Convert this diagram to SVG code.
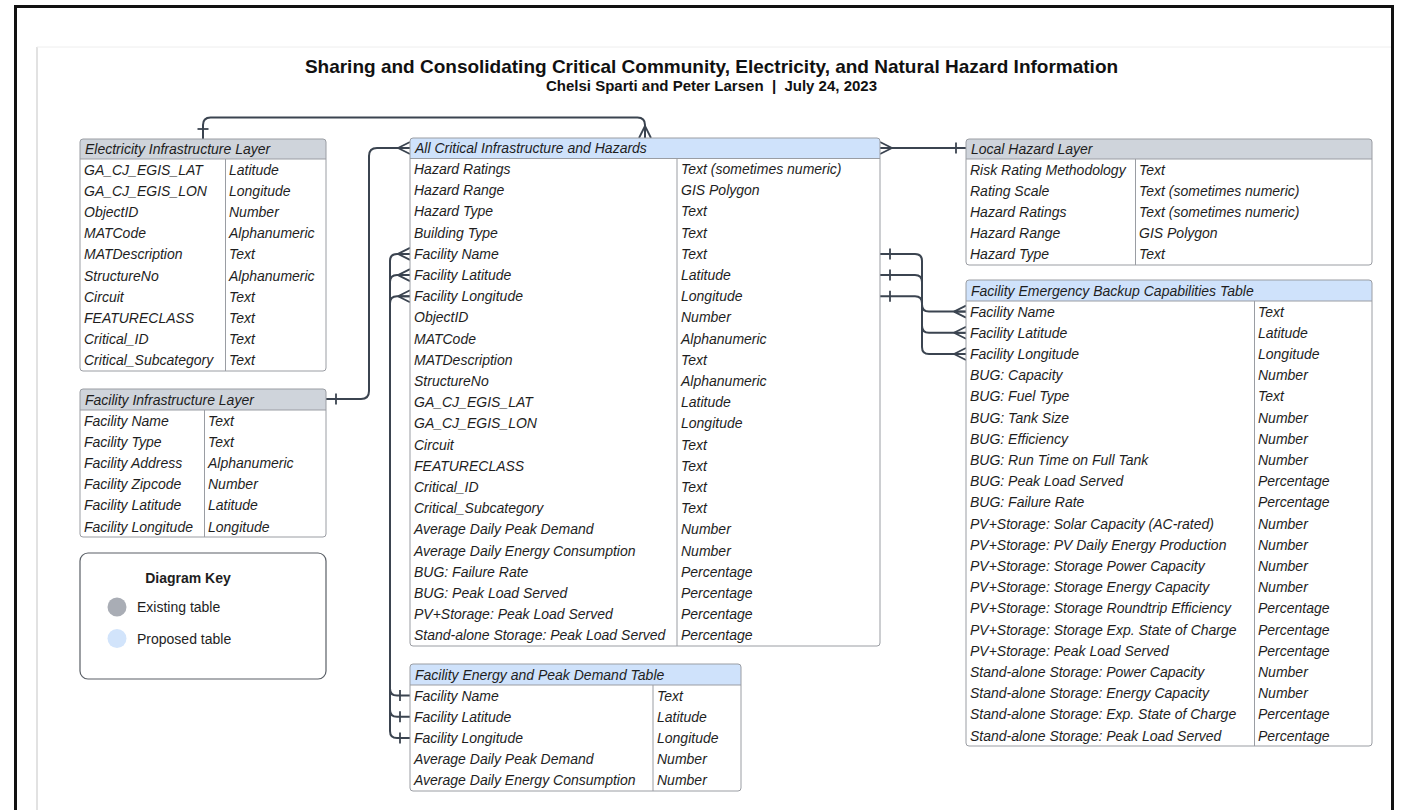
<svg xmlns="http://www.w3.org/2000/svg" width="1403" height="810" viewBox="0 0 1403 810">
<style>
.tb{fill:#fff;stroke:none}
.ol{fill:none;stroke:#9a9da3;stroke-width:1}
.dv{stroke:#9a9da3;stroke-width:1}
.hg{fill:#cfd4db}
.hb{fill:#cfe2fb}
.t{font-family:"Liberation Sans",Arial,sans-serif;font-size:14px;font-style:italic;fill:#1e1e1e}
.k{font-family:"Liberation Sans",Arial,sans-serif;font-size:14px;fill:#1e1e1e}
.ttl{font-family:"Liberation Sans",Arial,sans-serif;font-weight:bold;fill:#111;text-anchor:middle}
.cn{fill:none;stroke:#3b4450;stroke-width:2}
.mk{fill:none;stroke:#3b4450;stroke-width:1.8}
</style>
<defs>
<marker id="many" markerUnits="userSpaceOnUse" markerWidth="14" markerHeight="14" viewBox="0 0 14 14" refX="12" refY="7" orient="auto" overflow="visible">
<path class="mk" d="M0,7 L12,1 M0,7 L12,7 M0,7 L12,13"/>
</marker>
<marker id="one" markerUnits="userSpaceOnUse" markerWidth="14" markerHeight="14" viewBox="0 0 14 14" refX="0" refY="7" orient="auto" overflow="visible">
<path class="mk" d="M10,1.5 L10,12.5"/>
</marker>
</defs>
<rect x="0" y="0" width="1403" height="810" fill="#fff"/>
<g id="page">
<rect x="15.5" y="6.5" width="1377" height="830" fill="none" stroke="#111" stroke-width="3"/>
<line x1="37" y1="47" x2="37" y2="810" stroke="#cfcfcf" stroke-width="1.2"/>
<line x1="37" y1="47" x2="1391" y2="47" stroke="#eeeeee" stroke-width="1"/>
</g>
<g id="title">
<text class="ttl" x="711.5" y="72.5" font-size="19">Sharing and Consolidating Critical Community, Electricity, and Natural Hazard Information</text>
<text class="ttl" x="711.5" y="91" font-size="15">Chelsi Sparti and Peter Larsen &#160;| &#160;July 24, 2023</text>
</g>

<g id="connectors">
<path class="cn" d="M203,139 V125 Q203,117.5 210.5,117.5 H637.5 Q645,117.5 645,125 V138" marker-start="url(#one)" marker-end="url(#many)"/>
<path class="cn" d="M326,399 H361 Q369,399 369,391 V156 Q369,148 377,148 H410" marker-start="url(#one)" marker-end="url(#many)"/>
<path class="cn" d="M966,148 H880" marker-start="url(#one)" marker-end="url(#many)"/>
<path class="cn" d="M410,695.6 H397 Q390,695.6 390,688.6 V260.9 Q390,253.9 397,253.9 H410" marker-start="url(#one)" marker-end="url(#many)"/>
<path class="cn" d="M410,716.8 H397 Q390,716.8 390,709.8 V282.1 Q390,275.1 397,275.1 H410" marker-start="url(#one)" marker-end="url(#many)"/>
<path class="cn" d="M410,738 H397 Q390,738 390,731 V303.3 Q390,296.3 397,296.3 H410" marker-start="url(#one)" marker-end="url(#many)"/>
<path class="cn" d="M880,253.9 H915 Q922,253.9 922,260.9 V304.6 Q922,311.6 929,311.6 H966" marker-start="url(#one)" marker-end="url(#many)"/>
<path class="cn" d="M880,275.1 H915 Q922,275.1 922,282.1 V325.8 Q922,332.8 929,332.8 H966" marker-start="url(#one)" marker-end="url(#many)"/>
<path class="cn" d="M880,296.3 H915 Q922,296.3 922,303.3 V347 Q922,354 929,354 H966" marker-start="url(#one)" marker-end="url(#many)"/>
</g>

<g id="electricity-infrastructure-layer">
<rect class="tb" x="80" y="139" width="246" height="232" rx="3"/>
<path class="hg" d="M80,159 V142 Q80,139 83,139 H323 Q326,139 326,142 V159 Z"/>
<line class="dv" x1="80" y1="159" x2="326" y2="159"/>
<line class="dv" x1="225.5" y1="159" x2="225.5" y2="371"/>
<rect class="ol" x="80" y="139" width="246" height="232" rx="3"/>
<text class="t" x="85" y="154">Electricity Infrastructure Layer</text>
<text class="t" x="84" y="174.5">GA_CJ_EGIS_LAT</text><text class="t" x="229" y="174.5">Latitude</text>
<text class="t" x="84" y="195.7">GA_CJ_EGIS_LON</text><text class="t" x="229" y="195.7">Longitude</text>
<text class="t" x="84" y="216.9">ObjectID</text><text class="t" x="229" y="216.9">Number</text>
<text class="t" x="84" y="238.1">MATCode</text><text class="t" x="229" y="238.1">Alphanumeric</text>
<text class="t" x="84" y="259.3">MATDescription</text><text class="t" x="229" y="259.3">Text</text>
<text class="t" x="84" y="280.5">StructureNo</text><text class="t" x="229" y="280.5">Alphanumeric</text>
<text class="t" x="84" y="301.7">Circuit</text><text class="t" x="229" y="301.7">Text</text>
<text class="t" x="84" y="322.9">FEATURECLASS</text><text class="t" x="229" y="322.9">Text</text>
<text class="t" x="84" y="344.1">Critical_ID</text><text class="t" x="229" y="344.1">Text</text>
<text class="t" x="84" y="365.3">Critical_Subcategory</text><text class="t" x="229" y="365.3">Text</text>
</g>

<g id="facility-infrastructure-layer">
<rect class="tb" x="80" y="389" width="246" height="148" rx="3"/>
<path class="hg" d="M80,410 V392 Q80,389 83,389 H323 Q326,389 326,392 V410 Z"/>
<line class="dv" x1="80" y1="410" x2="326" y2="410"/>
<line class="dv" x1="204.5" y1="410" x2="204.5" y2="537"/>
<rect class="ol" x="80" y="389" width="246" height="148" rx="3"/>
<text class="t" x="85" y="404.5">Facility Infrastructure Layer</text>
<text class="t" x="84" y="425.5">Facility Name</text><text class="t" x="208" y="425.5">Text</text>
<text class="t" x="84" y="446.7">Facility Type</text><text class="t" x="208" y="446.7">Text</text>
<text class="t" x="84" y="467.9">Facility Address</text><text class="t" x="208" y="467.9">Alphanumeric</text>
<text class="t" x="84" y="489.1">Facility Zipcode</text><text class="t" x="208" y="489.1">Number</text>
<text class="t" x="84" y="510.3">Facility Latitude</text><text class="t" x="208" y="510.3">Latitude</text>
<text class="t" x="84" y="531.5">Facility Longitude</text><text class="t" x="208" y="531.5">Longitude</text>
</g>

<g id="diagram-key">
<rect x="80" y="553" width="246" height="126" rx="8" fill="#fff" stroke="#5a5f66" stroke-width="1.2"/>
<text class="k" x="188" y="583" font-weight="bold" text-anchor="middle">Diagram Key</text>
<circle cx="117" cy="607" r="9.5" fill="#a9adb5"/>
<text class="k" x="137" y="612">Existing table</text>
<circle cx="117" cy="638.5" r="9.5" fill="#d2e4fb"/>
<text class="k" x="137" y="643.5">Proposed table</text>
</g>

<g id="all-critical-infrastructure-and-hazards">
<rect class="tb" x="410" y="138" width="470" height="508" rx="3"/>
<path class="hb" d="M410,158.5 V141 Q410,138 413,138 H877 Q880,138 880,141 V158.5 Z"/>
<line class="dv" x1="410" y1="158.5" x2="880" y2="158.5"/>
<line class="dv" x1="677" y1="158.5" x2="677" y2="646"/>
<rect class="ol" x="410" y="138" width="470" height="508" rx="3"/>
<text class="t" x="415" y="153">All Critical Infrastructure and Hazards</text>
<text class="t" x="414" y="174">Hazard Ratings</text><text class="t" x="681" y="174">Text (sometimes numeric)</text>
<text class="t" x="414" y="195.2">Hazard Range</text><text class="t" x="681" y="195.2">GIS Polygon</text>
<text class="t" x="414" y="216.4">Hazard Type</text><text class="t" x="681" y="216.4">Text</text>
<text class="t" x="414" y="237.6">Building Type</text><text class="t" x="681" y="237.6">Text</text>
<text class="t" x="414" y="258.8">Facility Name</text><text class="t" x="681" y="258.8">Text</text>
<text class="t" x="414" y="280">Facility Latitude</text><text class="t" x="681" y="280">Latitude</text>
<text class="t" x="414" y="301.2">Facility Longitude</text><text class="t" x="681" y="301.2">Longitude</text>
<text class="t" x="414" y="322.4">ObjectID</text><text class="t" x="681" y="322.4">Number</text>
<text class="t" x="414" y="343.6">MATCode</text><text class="t" x="681" y="343.6">Alphanumeric</text>
<text class="t" x="414" y="364.8">MATDescription</text><text class="t" x="681" y="364.8">Text</text>
<text class="t" x="414" y="386">StructureNo</text><text class="t" x="681" y="386">Alphanumeric</text>
<text class="t" x="414" y="407.2">GA_CJ_EGIS_LAT</text><text class="t" x="681" y="407.2">Latitude</text>
<text class="t" x="414" y="428.4">GA_CJ_EGIS_LON</text><text class="t" x="681" y="428.4">Longitude</text>
<text class="t" x="414" y="449.6">Circuit</text><text class="t" x="681" y="449.6">Text</text>
<text class="t" x="414" y="470.8">FEATURECLASS</text><text class="t" x="681" y="470.8">Text</text>
<text class="t" x="414" y="492">Critical_ID</text><text class="t" x="681" y="492">Text</text>
<text class="t" x="414" y="513.2">Critical_Subcategory</text><text class="t" x="681" y="513.2">Text</text>
<text class="t" x="414" y="534.4">Average Daily Peak Demand</text><text class="t" x="681" y="534.4">Number</text>
<text class="t" x="414" y="555.6">Average Daily Energy Consumption</text><text class="t" x="681" y="555.6">Number</text>
<text class="t" x="414" y="576.8">BUG: Failure Rate</text><text class="t" x="681" y="576.8">Percentage</text>
<text class="t" x="414" y="598">BUG: Peak Load Served</text><text class="t" x="681" y="598">Percentage</text>
<text class="t" x="414" y="619.2">PV+Storage: Peak Load Served</text><text class="t" x="681" y="619.2">Percentage</text>
<text class="t" x="414" y="640.4">Stand-alone Storage: Peak Load Served</text><text class="t" x="681" y="640.4">Percentage</text>
</g>

<g id="facility-energy-and-peak-demand-table">
<rect class="tb" x="410" y="664" width="331" height="127" rx="3"/>
<path class="hb" d="M410,685 V667 Q410,664 413,664 H738 Q741,664 741,667 V685 Z"/>
<line class="dv" x1="410" y1="685" x2="741" y2="685"/>
<line class="dv" x1="653" y1="685" x2="653" y2="791"/>
<rect class="ol" x="410" y="664" width="331" height="127" rx="3"/>
<text class="t" x="415" y="679.5">Facility Energy and Peak Demand Table</text>
<text class="t" x="414" y="700.5">Facility Name</text><text class="t" x="657" y="700.5">Text</text>
<text class="t" x="414" y="721.7">Facility Latitude</text><text class="t" x="657" y="721.7">Latitude</text>
<text class="t" x="414" y="742.9">Facility Longitude</text><text class="t" x="657" y="742.9">Longitude</text>
<text class="t" x="414" y="764.1">Average Daily Peak Demand</text><text class="t" x="657" y="764.1">Number</text>
<text class="t" x="414" y="785.3">Average Daily Energy Consumption</text><text class="t" x="657" y="785.3">Number</text>
</g>

<g id="local-hazard-layer">
<rect class="tb" x="966" y="139" width="406" height="126" rx="3"/>
<path class="hg" d="M966,159 V142 Q966,139 969,139 H1369 Q1372,139 1372,142 V159 Z"/>
<line class="dv" x1="966" y1="159" x2="1372" y2="159"/>
<line class="dv" x1="1135.5" y1="159" x2="1135.5" y2="265"/>
<rect class="ol" x="966" y="139" width="406" height="126" rx="3"/>
<text class="t" x="971" y="154">Local Hazard Layer</text>
<text class="t" x="970" y="174.5">Risk Rating Methodology</text><text class="t" x="1139" y="174.5">Text</text>
<text class="t" x="970" y="195.7">Rating Scale</text><text class="t" x="1139" y="195.7">Text (sometimes numeric)</text>
<text class="t" x="970" y="216.9">Hazard Ratings</text><text class="t" x="1139" y="216.9">Text (sometimes numeric)</text>
<text class="t" x="970" y="238.1">Hazard Range</text><text class="t" x="1139" y="238.1">GIS Polygon</text>
<text class="t" x="970" y="259.3">Hazard Type</text><text class="t" x="1139" y="259.3">Text</text>
</g>

<g id="facility-emergency-backup-capabilities-table">
<rect class="tb" x="966" y="280" width="406" height="466" rx="3"/>
<path class="hb" d="M966,301 V283 Q966,280 969,280 H1369 Q1372,280 1372,283 V301 Z"/>
<line class="dv" x1="966" y1="301" x2="1372" y2="301"/>
<line class="dv" x1="1254.5" y1="301" x2="1254.5" y2="746"/>
<rect class="ol" x="966" y="280" width="406" height="466" rx="3"/>
<text class="t" x="971" y="295.5">Facility Emergency Backup Capabilities Table</text>
<text class="t" x="970" y="316.5">Facility Name</text><text class="t" x="1258" y="316.5">Text</text>
<text class="t" x="970" y="337.7">Facility Latitude</text><text class="t" x="1258" y="337.7">Latitude</text>
<text class="t" x="970" y="358.9">Facility Longitude</text><text class="t" x="1258" y="358.9">Longitude</text>
<text class="t" x="970" y="380.1">BUG: Capacity</text><text class="t" x="1258" y="380.1">Number</text>
<text class="t" x="970" y="401.3">BUG: Fuel Type</text><text class="t" x="1258" y="401.3">Text</text>
<text class="t" x="970" y="422.5">BUG: Tank Size</text><text class="t" x="1258" y="422.5">Number</text>
<text class="t" x="970" y="443.7">BUG: Efficiency</text><text class="t" x="1258" y="443.7">Number</text>
<text class="t" x="970" y="464.9">BUG: Run Time on Full Tank</text><text class="t" x="1258" y="464.9">Number</text>
<text class="t" x="970" y="486.1">BUG: Peak Load Served</text><text class="t" x="1258" y="486.1">Percentage</text>
<text class="t" x="970" y="507.3">BUG: Failure Rate</text><text class="t" x="1258" y="507.3">Percentage</text>
<text class="t" x="970" y="528.5">PV+Storage: Solar Capacity (AC-rated)</text><text class="t" x="1258" y="528.5">Number</text>
<text class="t" x="970" y="549.7">PV+Storage: PV Daily Energy Production</text><text class="t" x="1258" y="549.7">Number</text>
<text class="t" x="970" y="570.9">PV+Storage: Storage Power Capacity</text><text class="t" x="1258" y="570.9">Number</text>
<text class="t" x="970" y="592.1">PV+Storage: Storage Energy Capacity</text><text class="t" x="1258" y="592.1">Number</text>
<text class="t" x="970" y="613.3">PV+Storage: Storage Roundtrip Efficiency</text><text class="t" x="1258" y="613.3">Percentage</text>
<text class="t" x="970" y="634.5">PV+Storage: Storage Exp. State of Charge</text><text class="t" x="1258" y="634.5">Percentage</text>
<text class="t" x="970" y="655.7">PV+Storage: Peak Load Served</text><text class="t" x="1258" y="655.7">Percentage</text>
<text class="t" x="970" y="676.9">Stand-alone Storage: Power Capacity</text><text class="t" x="1258" y="676.9">Number</text>
<text class="t" x="970" y="698.1">Stand-alone Storage: Energy Capacity</text><text class="t" x="1258" y="698.1">Number</text>
<text class="t" x="970" y="719.3">Stand-alone Storage: Exp. State of Charge</text><text class="t" x="1258" y="719.3">Percentage</text>
<text class="t" x="970" y="740.5">Stand-alone Storage: Peak Load Served</text><text class="t" x="1258" y="740.5">Percentage</text>
</g>
</svg>
